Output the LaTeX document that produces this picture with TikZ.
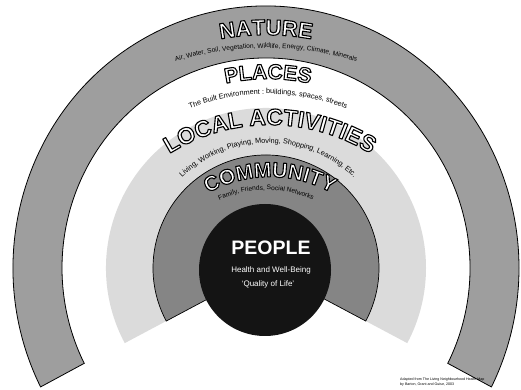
\documentclass[tikz,border=0pt]{standalone}
\usepackage{fontspec}
\setmainfont{Liberation Sans}
\usetikzlibrary{decorations.text,calc}

% outline rendering for title glyphs (fill white, stroke black)
\newcommand\hollow{\special{pdf:literal direct 2 Tr 1.1 w 1 j 0 0 0 RG 1 1 1 rg}}
\newcommand\solid{\special{pdf:literal direct 0 Tr}}

% label fonts
\newcommand\ringbig{\fontsize{22}{24}\selectfont\bfseries}
\newcommand\ringmid{\fontsize{21}{23}\selectfont\bfseries}
\newcommand\ringact{\fontsize{23}{25}\selectfont\bfseries}
\newcommand\ringsmall{\fontsize{6.6}{8}\selectfont}
\newcommand\ringsub{\fontsize{7.3}{9}\selectfont}

% outlined title set along an arc: #1,#2 arc centre, #3 radius, #4 font, #5 text
\newcommand\ringtitle[5]{%
  \path[decorate,
    decoration={text along path, text align=center, text={|#4\hollow|#5}}]
    (#1,#2) ++(180:#3) arc[start angle=180, end angle=0, radius=#3];
}
% plain caption set along an arc
\newcommand\ringcaption[5]{%
  \path[decorate,
    decoration={text along path, text align=center, text color=black, text={|#4\solid|#5}}]
    (#1,#2) ++(180:#3) arc[start angle=180, end angle=0, radius=#3];
}

\tikzset{
  natureband/.style={fill=black!38, draw=black, line width=0.8pt},
  activityband/.style={fill=black!14},
  communityband/.style={fill=black!48, draw=black, line width=0.7pt},
  peopledisc/.style={fill=black!92},
  peoplehead/.style={text=white, font=\fontsize{19.5}{21}\selectfont\bfseries, anchor=base, inner sep=0pt},
  peoplesub/.style={text=white, font=\fontsize{8}{9}\selectfont, anchor=base, inner sep=0pt},
  credit/.style={font=\fontsize{3.6}{4.4}\selectfont, align=left, anchor=north west, inner sep=0pt}
}

\begin{document}
\begin{tikzpicture}[x=1pt, y=1pt]
  \useasboundingbox (0,0) rectangle (521,390);
  \fill[white] (0,0) rectangle (521,390);

  \coordinate (C) at (266,122);

  % outer ring: nature
  \draw[natureband] (C) ++(207:253 and 262)
    arc[start angle=207, end angle=-27, x radius=253, y radius=262]
    -- ($(C)+(-27:204 and 210)$)
    arc[start angle=-27, end angle=207, x radius=204, y radius=210]
    -- cycle;

  % local activities and community sectors
  \fill[activityband] (C) -- ++(208:160) arc[start angle=208, end angle=-28, radius=160] -- cycle;
  \draw[communityband] (C) -- ++(208:113) arc[start angle=208, end angle=-28, radius=113] -- cycle;

  % people disc
  \fill[peopledisc] (265,120) circle (66);

  % ring titles and captions
  \ringtitle{266}{105}{250}{\ringbig}{NATURE}
  \ringcaption{266}{34}{308}{\ringsmall}{Air, Water, Soil, Vegetation, Wildlife, Energy, Climate, Minerals}
  \ringtitle{268}{111}{200}{\ringmid}{PLACES}
  \ringcaption{268}{84}{212}{\ringsub}{The Built Environment : buildings, spaces, streets}
  \ringtitle{270}{75}{190}{\ringact}{LOCAL ACTIVITIES}
  \ringcaption{268}{123}{124}{\ringsub}{Living, Working, Playing, Moving, Shopping, Learning, Etc.}
  \ringtitle{270}{86}{127}{\ringmid}{COMMUNITY}
  \ringcaption{266}{90}{110}{\ringsmall}{Family, Friends, Social Networks}

  % centre text
  \node[peoplehead] (people) at (271,135) {\solid PEOPLE};
  \node[peoplesub] (health) at (271,117) {\solid Health and Well-Being};
  \node[peoplesub] (quality) at (268,103) {\solid `Quality of Life'};

  % source line
  \node[credit] (source) at (400,12) {\solid Adapted from The Living Neighbourhood Health Map\\by Barton, Grant and Guise, 2003};
\end{tikzpicture}
\end{document}
